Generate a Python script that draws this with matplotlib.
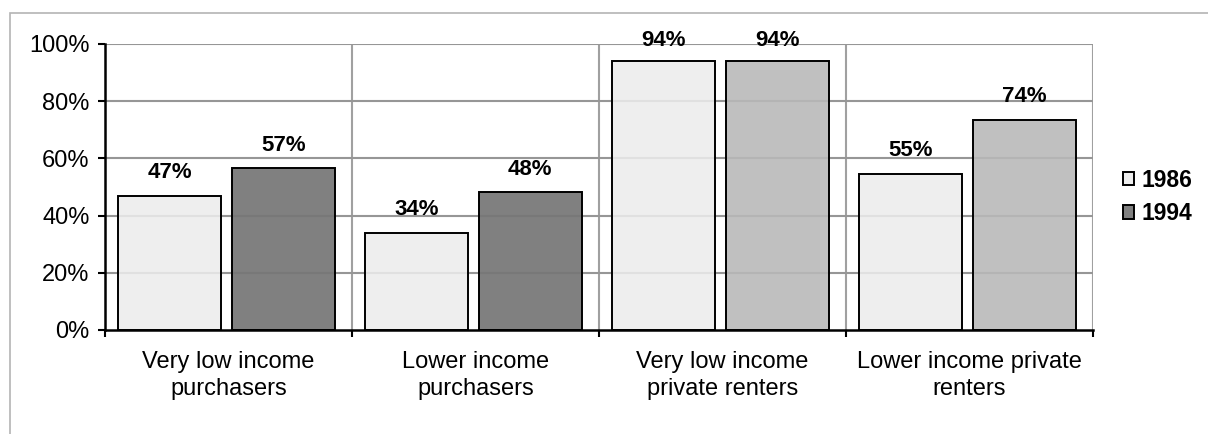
import matplotlib
matplotlib.use("Agg")
import matplotlib.pyplot as plt
from matplotlib.patches import Rectangle, Patch
import numpy as np

plt.rcParams['font.family'] = ['Liberation Sans', 'DejaVu Sans']

categories = ["Very low income\npurchasers", "Lower income\npurchasers",
              "Very low income\nprivate renters", "Lower income private\nrenters"]
series_names = ["1986", "1994"]
values_1986 = [47.0, 34.0, 94.0, 54.7]
values_1994 = [56.6, 48.1, 94.0, 73.6]
colors_1986 = ["#EEEEEE", "#EEEEEE", "#EEEEEE", "#EEEEEE"]
colors_1994 = ["#808080", "#808080", "#C0C0C0", "#C0C0C0"]
yticks = [0, 20, 40, 60, 80, 100]

W, H = 1208, 434
fig = plt.figure(figsize=(W / 100, H / 100), dpi=100)
ax = fig.add_axes([105 / W, 1 - 330 / H, (1093 - 105) / W, (330 - 44) / H])

# outer chart border
fig.patches.append(Rectangle((10 / W, -0.1), 1.2, 0.1 + (1 - 13 / H),
                             transform=fig.transFigure, fill=False,
                             edgecolor="#B4B4B4", linewidth=1.2, zorder=0))

x = np.arange(len(categories))
bw = 0.415
pos1 = x + 0.262
pos2 = x + 0.722

for v in yticks[1:]:
    ax.axhline(v, color="#A0A0A0", linewidth=1.5, zorder=1)
for b in range(1, len(categories) + 1):
    ax.axvline(b, color="#A0A0A0", linewidth=1.5, zorder=1)

b1 = ax.bar(pos1, values_1986, width=bw, color=colors_1986, edgecolor="black",
            linewidth=1.4, zorder=3)
b2 = ax.bar(pos2, values_1994, width=bw, color=colors_1994, edgecolor="black",
            linewidth=1.4, zorder=3)

# faint grid showing through bars
for v in yticks[1:]:
    ax.axhline(v, color="#000000", alpha=0.06, linewidth=1.5, zorder=4)

for bars, vals in ((b1, values_1986), (b2, values_1994)):
    for r, v in zip(bars, vals):
        ax.annotate(f"{v:.0f}%", (r.get_x() + r.get_width() / 2, v),
                    xytext=(0, 9 if v < 90 else 7), textcoords="offset points",
                    ha="center", va="bottom", fontsize=16, fontweight="bold",
                    zorder=5)

ax.set_xlim(0, len(categories))
ax.set_ylim(0, 100)
ax.set_yticks(yticks)
ax.set_yticklabels([f"{v}%" for v in yticks])
ax.set_xticks(np.arange(len(categories) + 1))
ax.set_xticklabels([])
ax.set_xticks(x + 0.5, minor=True)
ax.set_xticklabels(categories, minor=True, fontsize=17, linespacing=1.3)
ax.tick_params(axis="x", which="minor", length=0, pad=15)
ax.tick_params(axis="x", which="major", length=5, width=1.5, direction="out")
ax.tick_params(axis="y", length=5, width=1.5, direction="out", labelsize=17, pad=6)

for s in ("top", "right"):
    ax.spines[s].set_visible(False)
for s in ("left", "bottom"):
    ax.spines[s].set_linewidth(1.8)
    ax.spines[s].set_zorder(6)
ax.patch.set_visible(False)

handles = [Patch(facecolor="#EEEEEE", edgecolor="black", linewidth=1.4),
           Patch(facecolor="#808080", edgecolor="black", linewidth=1.4)]
fig.legend(handles, series_names, loc="center left",
           bbox_to_anchor=(1123 / W, 1 - 197 / H), frameon=False,
           prop={"size": 16.5, "weight": "bold"}, handlelength=0.5,
           handleheight=0.5, handletextpad=0.3, labelspacing=0.45,
           borderpad=0, borderaxespad=0)

fig.savefig("out.png", dpi=100)
